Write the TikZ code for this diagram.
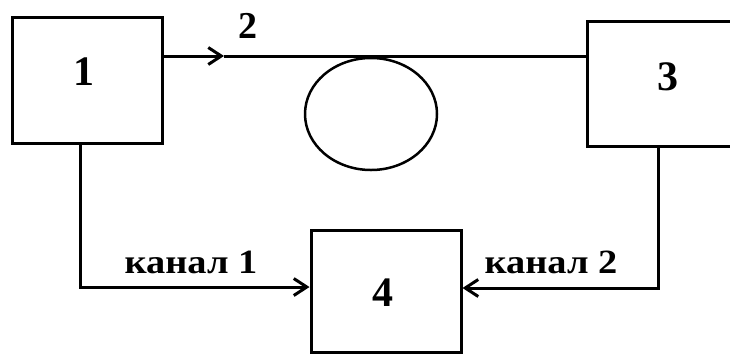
\documentclass[tikz,border=0pt]{standalone}
\usepackage{fontspec}
\setmainfont{Liberation Serif}
\usetikzlibrary{arrows.meta,shapes.geometric}
\begin{document}
\begin{tikzpicture}[x=1pt,y=-1pt,
  line width=3pt,
  blk/.style={draw,rectangle,inner sep=0pt,line width=3pt},
  num/.style={font=\fontsize{42}{44}\selectfont\bfseries,inner sep=0pt},
  chan/.style={font=\fontsize{34}{36}\selectfont\bfseries,inner sep=0pt,xscale=1.13},
  arr/.style={-{Straight Barb[length=13pt,width=17pt,line width=3pt]}},
  ]
\useasboundingbox (0,0) rectangle (730,354);
% boxes
\node[blk,minimum width=150pt,minimum height=126pt] (b1) at (87,80) {};
\node[blk,minimum width=162pt,minimum height=125pt] (b3) at (668,83.5) {};
\node[blk,minimum width=150pt,minimum height=122pt] (b4) at (386,291) {};
\node[num] (l1) at (84,72) {1};
\node[num] (l3) at (668,77) {3};
\node[num] (l4) at (383,293) {4};
\node[num,font=\fontsize{38}{40}\selectfont\bfseries] (l2) at (248,26) {2};
% ellipse
\node[draw,ellipse,line width=2.5pt,minimum width=132pt,minimum height=112pt,inner sep=0pt] (e) at (371,114) {};
% top line
\coordinate (p2) at (224,56);
\draw[arr] (b1.east |- p2) -- (p2);
\draw (p2) -- (b3.west |- p2);
% channels
\coordinate (c1) at (80,287);
\coordinate (c2) at (658,288);
\draw[arr] (b1.south -| c1) -- (c1) -- (b4.west |- c1);
\draw[arr] (b3.south -| c2) -- (c2) -- (b4.east |- c2);
\node[chan] (k1) at (191,262) {канал 1};
\node[chan] (k2) at (551,262) {канал 2};
\end{tikzpicture}
\end{document}
